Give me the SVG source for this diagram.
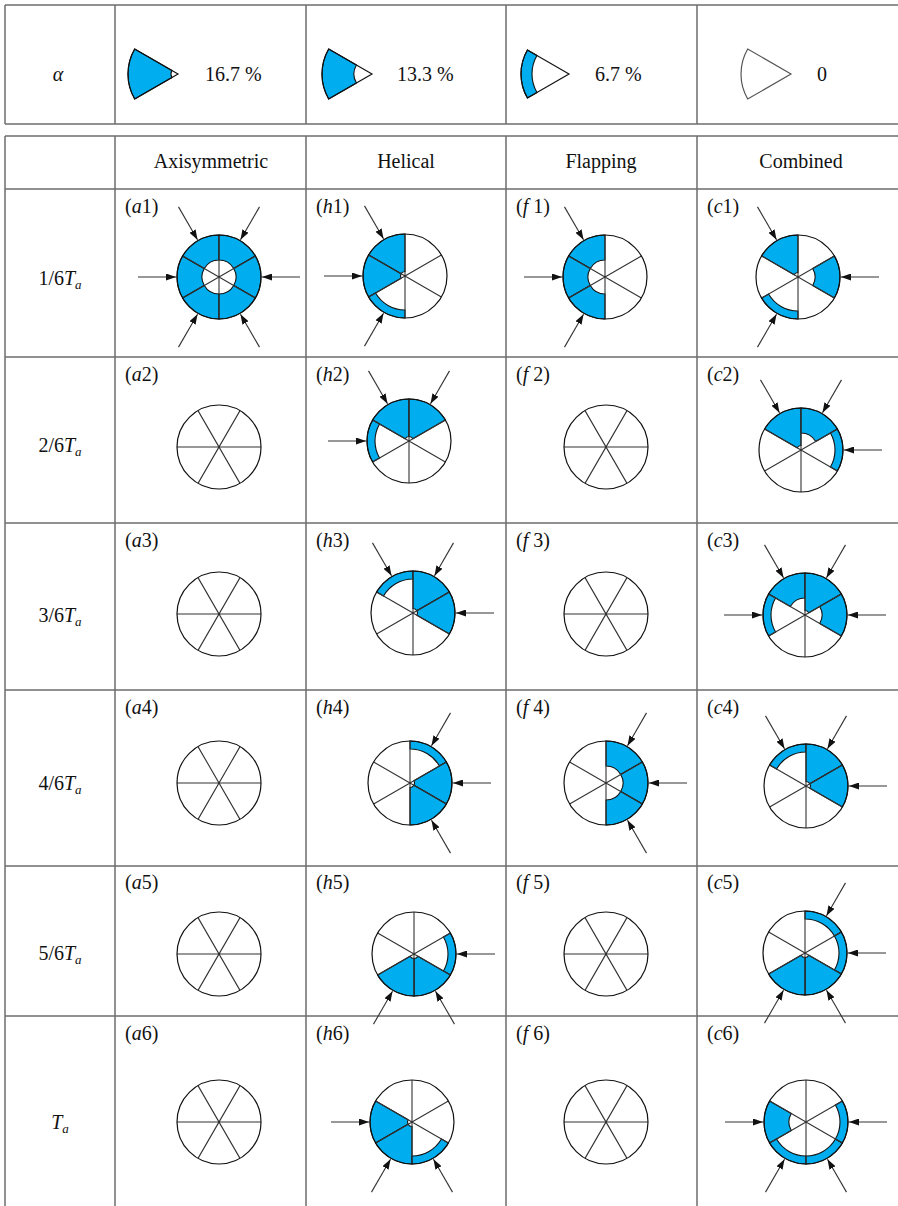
<svg xmlns="http://www.w3.org/2000/svg" width="898" height="1206" viewBox="0 0 898 1206">
<style>
.grid{stroke:#6e6e6e;stroke-width:1.5;fill:none}
.bl{fill:#00aeef;stroke:#111;stroke-width:1.1}
.sp{stroke:#333;stroke-width:1.1;fill:none}
.ol{stroke:#111;stroke-width:1.2;fill:none}
.bg{fill:#fff}
.arr{stroke:#333;stroke-width:1.1;marker-end:url(#ah)}
.t{font-family:'Liberation Serif','Times New Roman',serif;font-size:20px;fill:#111}
.i{font-style:italic}
</style>
<defs>
<marker id="ah" markerUnits="userSpaceOnUse" markerWidth="10" markerHeight="7" refX="10" refY="3.5" orient="auto">
<path d="M0,0 L10,3.5 L0,7 Z" fill="#111"/>
</marker>
<path id="F" class="bl" d="M -3.897 -2.25 L -36.373 -21 A 42 42 0 0 0 -36.373 21 L -3.897 2.25 A 4.5 4.5 0 0 1 -3.897 -2.25 Z"/>
<path id="M" class="bl" d="M -14.722 -8.5 L -36.373 -21 A 42 42 0 0 0 -36.373 21 L -14.722 8.5 A 17 17 0 0 1 -14.722 -8.5 Z"/>
<path id="T" class="bl" d="M -29.445 -17 L -36.373 -21 A 42 42 0 0 0 -36.373 21 L -29.445 17 A 34 34 0 0 1 -29.445 -17 Z"/>
<circle id="bgc" class="bg" r="42"/>
<g id="wheelA">
<path class="sp" d="M0 -42 V42 M36.373 -21 L-36.373 21 M-36.373 -21 L36.373 21"/>
<circle class="ol" r="42"/>
</g>
<g id="wheelB">
<circle class="bg" r="42"/>
<path class="sp" d="M-42 0 H42 M21 -36.373 L-21 36.373 M-21 -36.373 L21 36.373"/>
<circle class="ol" r="42"/>
</g>
</defs>
<rect width="898" height="1206" fill="#fff"/>
<g id="grid" class="grid">
<path d="M5 5 H898 M5 124 H898 M5 5 V124 M115 5 V124 M306 5 V124 M506 5 V124 M697 5 V124"/>
<path d="M5 136 H898 M5 189 H898 M5 357 H898 M5 523 H898 M5 690 H898 M5 866 H898 M5 1016 H898 M5 136 V1206 M115 136 V1206 M306 136 V1206 M506 136 V1206 M697 136 V1206"/>
</g>
<g id="legend">
<text class="t i" x="58" y="81" text-anchor="middle">α</text>
<g id="leg167" transform="translate(178,74)">
<path class="bl" d="M -6.062 -3.5 L -43.301 -25 A 50 50 0 0 0 -43.301 25 L -6.062 3.5 A 7 7 0 0 1 -6.062 -3.5 Z"/>
<path class="ol" d="M0 0 L -43.301 -25 A 50 50 0 0 0 -43.301 25 Z"/>
</g>
<text class="t" x="205" y="81">16.7 %</text>
<g id="leg133" transform="translate(372,74)">
<path class="bl" d="M -15.588 -9 L -43.301 -25 A 50 50 0 0 0 -43.301 25 L -15.588 9 A 18 18 0 0 1 -15.588 -9 Z"/>
<path class="ol" d="M0 0 L -43.301 -25 A 50 50 0 0 0 -43.301 25 Z"/>
</g>
<text class="t" x="397" y="81">13.3 %</text>
<g id="leg67" transform="translate(569,74)">
<path class="bl" d="M -32.043 -18.5 L -41.569 -24 A 48 48 0 0 0 -41.569 24 L -32.043 18.5 A 37 37 0 0 1 -32.043 -18.5 Z"/>
<path class="ol" d="M0 0 L -41.569 -24 A 48 48 0 0 0 -41.569 24 Z"/>
</g>
<text class="t" x="595" y="81">6.7 %</text>
<g id="leg0" transform="translate(791,74)">
<path d="M0 0 L -43.301 -25 A 50 50 0 0 0 -43.301 25 Z" fill="none" stroke="#555" stroke-width="1.2"/>
</g>
<text class="t" x="822" y="81" text-anchor="middle">0</text>
</g>
<g id="headers">
<text class="t" x="211" y="168" text-anchor="middle">Axisymmetric</text>
<text class="t" x="406" y="168" text-anchor="middle">Helical</text>
<text class="t" x="601" y="168" text-anchor="middle">Flapping</text>
<text class="t" x="801" y="168" text-anchor="middle">Combined</text>
</g>
<g id="rowlabels">
<text class="t" x="60" y="285" text-anchor="middle">1/6<tspan class="i">T</tspan><tspan class="i" font-size="13" dy="4">a</tspan></text>
<text class="t" x="60" y="452" text-anchor="middle">2/6<tspan class="i">T</tspan><tspan class="i" font-size="13" dy="4">a</tspan></text>
<text class="t" x="60" y="622" text-anchor="middle">3/6<tspan class="i">T</tspan><tspan class="i" font-size="13" dy="4">a</tspan></text>
<text class="t" x="60" y="790" text-anchor="middle">4/6<tspan class="i">T</tspan><tspan class="i" font-size="13" dy="4">a</tspan></text>
<text class="t" x="60" y="960" text-anchor="middle">5/6<tspan class="i">T</tspan><tspan class="i" font-size="13" dy="4">a</tspan></text>
<text class="t" x="60" y="1129" text-anchor="middle"><tspan class="i">T</tspan><tspan class="i" font-size="13" dy="4">a</tspan></text>
</g>

<!-- Row 1 -->
<g id="a1">
<text class="t" x="125" y="213">(<tspan class="i">a</tspan>1)</text>
<g transform="translate(219,277)">
<use href="#bgc"/>
<use href="#M" transform="rotate(0)"/><use href="#M" transform="rotate(60)"/><use href="#M" transform="rotate(120)"/>
<use href="#M" transform="rotate(180)"/><use href="#M" transform="rotate(-60)"/><use href="#M" transform="rotate(-120)"/>
<use href="#wheelA"/>
</g>
</g>
<g id="h1">
<text class="t" x="316" y="213">(<tspan class="i">h</tspan>1)</text>
<g transform="translate(405,276)">
<use href="#bgc"/>
<use href="#F" transform="rotate(60)"/><use href="#F" transform="rotate(0)"/><use href="#T" transform="rotate(-60)"/>
<use href="#wheelA"/>
</g>
</g>
<g id="f1">
<text class="t" x="516" y="213">(<tspan class="i">f</tspan> 1)</text>
<g transform="translate(605,277)">
<use href="#bgc"/>
<use href="#M" transform="rotate(60)"/><use href="#M" transform="rotate(0)"/><use href="#M" transform="rotate(-60)"/>
<use href="#wheelA"/>
</g>
</g>
<g id="c1">
<text class="t" x="707" y="213">(<tspan class="i">c</tspan>1)</text>
<g transform="translate(798,277)">
<use href="#bgc"/>
<use href="#F" transform="rotate(60)"/><use href="#M" transform="rotate(180)"/><use href="#T" transform="rotate(-60)"/>
<use href="#wheelA"/>
</g>
</g>

<!-- Row 2 -->
<g id="a2">
<text class="t" x="125" y="381">(<tspan class="i">a</tspan>2)</text>
<use href="#wheelB" transform="translate(219,447)"/>
</g>
<g id="h2">
<text class="t" x="316" y="381">(<tspan class="i">h</tspan>2)</text>
<g transform="translate(409,441)">
<use href="#bgc"/>
<use href="#F" transform="rotate(60)"/><use href="#F" transform="rotate(120)"/><use href="#T" transform="rotate(0)"/>
<use href="#wheelA"/>
</g>
</g>
<g id="f2">
<text class="t" x="516" y="381">(<tspan class="i">f</tspan> 2)</text>
<use href="#wheelB" transform="translate(606,447)"/>
</g>
<g id="c2">
<text class="t" x="707" y="381">(<tspan class="i">c</tspan>2)</text>
<g transform="translate(801,450)">
<use href="#bgc"/>
<use href="#F" transform="rotate(60)"/><use href="#M" transform="rotate(120)"/><use href="#T" transform="rotate(180)"/>
<use href="#wheelA"/>
</g>
</g>

<!-- Row 3 -->
<g id="a3">
<text class="t" x="125" y="547">(<tspan class="i">a</tspan>3)</text>
<use href="#wheelB" transform="translate(219,614)"/>
</g>
<g id="h3">
<text class="t" x="316" y="547">(<tspan class="i">h</tspan>3)</text>
<g transform="translate(413,613)">
<use href="#bgc"/>
<use href="#T" transform="rotate(60)"/><use href="#F" transform="rotate(120)"/><use href="#F" transform="rotate(180)"/>
<use href="#wheelA"/>
</g>
</g>
<g id="f3">
<text class="t" x="516" y="547">(<tspan class="i">f</tspan> 3)</text>
<use href="#wheelB" transform="translate(606,614)"/>
</g>
<g id="c3">
<text class="t" x="707" y="547">(<tspan class="i">c</tspan>3)</text>
<g transform="translate(805,615)">
<use href="#bgc"/>
<use href="#M" transform="rotate(60)"/><use href="#F" transform="rotate(120)"/><use href="#M" transform="rotate(180)"/><use href="#T" transform="rotate(0)"/>
<use href="#wheelA"/>
</g>
</g>

<!-- Row 4 -->
<g id="a4">
<text class="t" x="125" y="714">(<tspan class="i">a</tspan>4)</text>
<use href="#wheelB" transform="translate(219,783)"/>
</g>
<g id="h4">
<text class="t" x="316" y="714">(<tspan class="i">h</tspan>4)</text>
<g transform="translate(410,783)">
<use href="#bgc"/>
<use href="#T" transform="rotate(120)"/><use href="#F" transform="rotate(180)"/><use href="#F" transform="rotate(-120)"/>
<use href="#wheelA"/>
</g>
</g>
<g id="f4">
<text class="t" x="516" y="714">(<tspan class="i">f</tspan> 4)</text>
<g transform="translate(606,783)">
<use href="#bgc"/>
<use href="#M" transform="rotate(120)"/><use href="#M" transform="rotate(180)"/><use href="#M" transform="rotate(-120)"/>
<use href="#wheelA"/>
</g>
</g>
<g id="c4">
<text class="t" x="707" y="714">(<tspan class="i">c</tspan>4)</text>
<g transform="translate(806,786)">
<use href="#bgc"/>
<use href="#T" transform="rotate(60)"/><use href="#F" transform="rotate(120)"/><use href="#F" transform="rotate(180)"/>
<use href="#wheelA"/>
</g>
</g>

<!-- Row 5 -->
<g id="a5">
<text class="t" x="125" y="889">(<tspan class="i">a</tspan>5)</text>
<use href="#wheelB" transform="translate(219,954)"/>
</g>
<g id="h5">
<text class="t" x="316" y="889">(<tspan class="i">h</tspan>5)</text>
<g transform="translate(414,954)">
<use href="#bgc"/>
<use href="#T" transform="rotate(180)"/><use href="#F" transform="rotate(-120)"/><use href="#F" transform="rotate(-60)"/>
<use href="#wheelA"/>
</g>
</g>
<g id="f5">
<text class="t" x="516" y="889">(<tspan class="i">f</tspan> 5)</text>
<use href="#wheelB" transform="translate(606,954)"/>
</g>
<g id="c5">
<text class="t" x="707" y="889">(<tspan class="i">c</tspan>5)</text>
<g transform="translate(805,953)">
<use href="#bgc"/>
<use href="#T" transform="rotate(120)"/><use href="#T" transform="rotate(180)"/><use href="#F" transform="rotate(-120)"/><use href="#F" transform="rotate(-60)"/>
<use href="#wheelA"/>
</g>
</g>

<!-- Row 6 -->
<g id="a6">
<text class="t" x="125" y="1040">(<tspan class="i">a</tspan>6)</text>
<use href="#wheelB" transform="translate(219,1122)"/>
</g>
<g id="h6">
<text class="t" x="316" y="1040">(<tspan class="i">h</tspan>6)</text>
<g transform="translate(412,1122)">
<use href="#bgc"/>
<use href="#F" transform="rotate(0)"/><use href="#F" transform="rotate(-60)"/><use href="#T" transform="rotate(-120)"/>
<use href="#wheelA"/>
</g>
</g>
<g id="f6">
<text class="t" x="516" y="1040">(<tspan class="i">f</tspan> 6)</text>
<use href="#wheelB" transform="translate(606,1122)"/>
</g>
<g id="c6">
<text class="t" x="707" y="1040">(<tspan class="i">c</tspan>6)</text>
<g transform="translate(806,1122)">
<use href="#bgc"/>
<use href="#M" transform="rotate(0)"/><use href="#T" transform="rotate(-60)"/><use href="#T" transform="rotate(-120)"/><use href="#T" transform="rotate(180)"/>
<use href="#wheelA"/>
</g>
</g>

<g id="connectors">
<g transform="translate(219,277)">
<line class="arr" x1="-81" y1="0" x2="-43" y2="0" transform="rotate(0)"/>
<line class="arr" x1="-81" y1="0" x2="-43" y2="0" transform="rotate(60)"/>
<line class="arr" x1="-81" y1="0" x2="-43" y2="0" transform="rotate(120)"/>
<line class="arr" x1="-81" y1="0" x2="-43" y2="0" transform="rotate(180)"/>
<line class="arr" x1="-81" y1="0" x2="-43" y2="0" transform="rotate(-60)"/>
<line class="arr" x1="-81" y1="0" x2="-43" y2="0" transform="rotate(-120)"/>
</g>
<g transform="translate(405,276)">
<line class="arr" x1="-81" y1="0" x2="-43" y2="0" transform="rotate(60)"/>
<line class="arr" x1="-81" y1="0" x2="-43" y2="0" transform="rotate(0)"/>
<line class="arr" x1="-81" y1="0" x2="-43" y2="0" transform="rotate(-60)"/>
</g>
<g transform="translate(605,277)">
<line class="arr" x1="-81" y1="0" x2="-43" y2="0" transform="rotate(60)"/>
<line class="arr" x1="-81" y1="0" x2="-43" y2="0" transform="rotate(0)"/>
<line class="arr" x1="-81" y1="0" x2="-43" y2="0" transform="rotate(-60)"/>
</g>
<g transform="translate(798,277)">
<line class="arr" x1="-81" y1="0" x2="-43" y2="0" transform="rotate(60)"/>
<line class="arr" x1="-81" y1="0" x2="-43" y2="0" transform="rotate(180)"/>
<line class="arr" x1="-81" y1="0" x2="-43" y2="0" transform="rotate(-60)"/>
</g>
<g transform="translate(409,441)">
<line class="arr" x1="-81" y1="0" x2="-43" y2="0" transform="rotate(60)"/>
<line class="arr" x1="-81" y1="0" x2="-43" y2="0" transform="rotate(120)"/>
<line class="arr" x1="-81" y1="0" x2="-43" y2="0" transform="rotate(0)"/>
</g>
<g transform="translate(801,450)">
<line class="arr" x1="-81" y1="0" x2="-43" y2="0" transform="rotate(60)"/>
<line class="arr" x1="-81" y1="0" x2="-43" y2="0" transform="rotate(120)"/>
<line class="arr" x1="-81" y1="0" x2="-43" y2="0" transform="rotate(180)"/>
</g>
<g transform="translate(413,613)">
<line class="arr" x1="-81" y1="0" x2="-43" y2="0" transform="rotate(60)"/>
<line class="arr" x1="-81" y1="0" x2="-43" y2="0" transform="rotate(120)"/>
<line class="arr" x1="-81" y1="0" x2="-43" y2="0" transform="rotate(180)"/>
</g>
<g transform="translate(805,615)">
<line class="arr" x1="-81" y1="0" x2="-43" y2="0" transform="rotate(60)"/>
<line class="arr" x1="-81" y1="0" x2="-43" y2="0" transform="rotate(120)"/>
<line class="arr" x1="-81" y1="0" x2="-43" y2="0" transform="rotate(180)"/>
<line class="arr" x1="-81" y1="0" x2="-43" y2="0" transform="rotate(0)"/>
</g>
<g transform="translate(410,783)">
<line class="arr" x1="-81" y1="0" x2="-43" y2="0" transform="rotate(120)"/>
<line class="arr" x1="-81" y1="0" x2="-43" y2="0" transform="rotate(180)"/>
<line class="arr" x1="-81" y1="0" x2="-43" y2="0" transform="rotate(-120)"/>
</g>
<g transform="translate(606,783)">
<line class="arr" x1="-81" y1="0" x2="-43" y2="0" transform="rotate(120)"/>
<line class="arr" x1="-81" y1="0" x2="-43" y2="0" transform="rotate(180)"/>
<line class="arr" x1="-81" y1="0" x2="-43" y2="0" transform="rotate(-120)"/>
</g>
<g transform="translate(806,786)">
<line class="arr" x1="-81" y1="0" x2="-43" y2="0" transform="rotate(60)"/>
<line class="arr" x1="-81" y1="0" x2="-43" y2="0" transform="rotate(120)"/>
<line class="arr" x1="-81" y1="0" x2="-43" y2="0" transform="rotate(180)"/>
</g>
<g transform="translate(414,954)">
<line class="arr" x1="-81" y1="0" x2="-43" y2="0" transform="rotate(180)"/>
<line class="arr" x1="-81" y1="0" x2="-43" y2="0" transform="rotate(-120)"/>
<line class="arr" x1="-81" y1="0" x2="-43" y2="0" transform="rotate(-60)"/>
</g>
<g transform="translate(805,953)">
<line class="arr" x1="-81" y1="0" x2="-43" y2="0" transform="rotate(120)"/>
<line class="arr" x1="-81" y1="0" x2="-43" y2="0" transform="rotate(180)"/>
<line class="arr" x1="-81" y1="0" x2="-43" y2="0" transform="rotate(-120)"/>
<line class="arr" x1="-81" y1="0" x2="-43" y2="0" transform="rotate(-60)"/>
</g>
<g transform="translate(412,1122)">
<line class="arr" x1="-81" y1="0" x2="-43" y2="0" transform="rotate(0)"/>
<line class="arr" x1="-81" y1="0" x2="-43" y2="0" transform="rotate(-60)"/>
<line class="arr" x1="-81" y1="0" x2="-43" y2="0" transform="rotate(-120)"/>
</g>
<g transform="translate(806,1122)">
<line class="arr" x1="-81" y1="0" x2="-43" y2="0" transform="rotate(0)"/>
<line class="arr" x1="-81" y1="0" x2="-43" y2="0" transform="rotate(-60)"/>
<line class="arr" x1="-81" y1="0" x2="-43" y2="0" transform="rotate(-120)"/>
<line class="arr" x1="-81" y1="0" x2="-43" y2="0" transform="rotate(180)"/>
</g>
</g>
</svg>
